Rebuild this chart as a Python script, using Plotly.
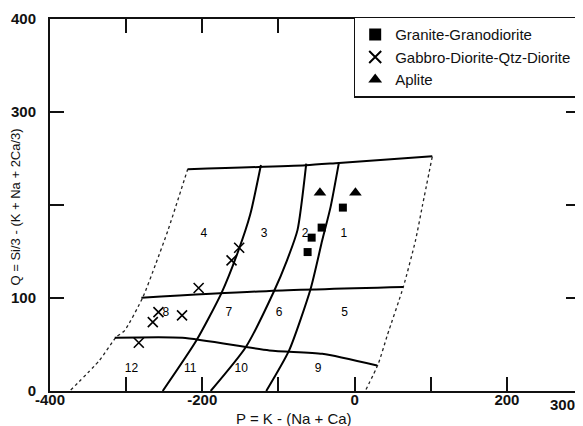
import plotly.graph_objects as go

# ---- data (P, Q values) ----
granite_P = [-15.4, -43.3, -56.4, -61.7]
granite_Q = [197.2, 175.7, 164.9, 149.4]

gabbro_P = [-151.6, -161.6, -204.8, -257.6, -265.0, -226.6, -283.4]
gabbro_Q = [154.0, 140.5, 110.7, 84.8, 74.0, 81.3, 51.9]

aplite_P = [-45.5, 1.1]
aplite_Q = [213.3, 213.3]

# field boundaries
top_P = [-219, -64, -20.7, 102]
top_Q = [238.4, 242.7, 245.2, 252.4]
left_P = [-219, -245, -261, -278, -302, -313, -335, -374]
left_Q = [239, 173, 137, 101, 65, 58, 33, 0]
right_P = [102, 89, 80, 64, 43, 31, 14]
right_Q = [252, 199, 162, 112, 60, 29, 0]
lineA_P = [-123, -137, -153, -175, -208, -252]
lineA_Q = [243, 190, 150, 105, 54, 0]
lineB_P = [-63.5, -75, -89, -106, -143, -189]
lineB_Q = [244.5, 173, 140, 107, 47, 0]
lineC_P = [-20.7, -31.5, -42.5, -57.7, -86, -116]
lineC_Q = [245, 198, 162, 110, 43.6, 0]
mid_P = [-280, -112, 64]
mid_Q = [100.3, 107.5, 111.7]
low_P = [-315, -226, -112, -42.5, 29.5]
low_Q = [57.2, 57.2, 43.6, 40, 27.4]

region_P = [-14, -65, -119, -198, -13, -99, -165, -248, -48, -149, -216, -293]
region_Q = [169, 169, 169, 169, 84, 84, 84, 84, 24, 24, 24, 24]
region_labels = ["1", "2", "3", "4", "5", "6", "7", "8", "9", "10", "11", "12"]

x_tickvals = [-400, -300, -200, -100, 0, 100, 200]
x_ticktext = ["-400", "", "-200", "", "0", "", "200"]
y_tickvals = [0, 100, 200, 300, 400]
y_ticktext = ["0", "100", "", "300", "400"]

FONT = "Liberation Sans, Arial, sans-serif"

fig = go.Figure()

solid = dict(color="black", width=2)
dashed = dict(color="#222", width=1.3, dash="3px,3px")

for P, Q, st in [
    (top_P, top_Q, solid), (left_P, left_Q, dashed), (right_P, right_Q, dashed),
    (lineA_P, lineA_Q, solid), (lineB_P, lineB_Q, solid), (lineC_P, lineC_Q, solid),
    (mid_P, mid_Q, solid), (low_P, low_Q, solid),
]:
    fig.add_trace(go.Scatter(x=P, y=Q, mode="lines", line=dict(shape="spline", smoothing=0.6, **st),
                             showlegend=False, hoverinfo="skip"))

fig.add_trace(go.Scatter(x=region_P, y=region_Q, mode="text", text=region_labels,
                         textfont=dict(family=FONT, size=12, color="black"),
                         showlegend=False, hoverinfo="skip"))

fig.add_trace(go.Scatter(x=granite_P, y=granite_Q, mode="markers", name="Granite-Granodiorite",
                         marker=dict(symbol="square", size=8, color="black")))
fig.add_trace(go.Scatter(x=gabbro_P, y=gabbro_Q, mode="markers", name="Gabbro-Diorite-Qtz-Diorite",
                         marker=dict(symbol="x-thin-open", size=10, color="black",
                                     line=dict(width=1.6, color="black"))))
fig.add_trace(go.Scatter(x=aplite_P, y=aplite_Q, mode="markers", name="Aplite",
                         marker=dict(symbol="triangle-up", size=11, color="black")))

axis_common = dict(showline=True, linecolor="#111", linewidth=2, mirror="ticks",
                   ticks="inside", ticklen=14, tickwidth=1.5, tickcolor="#111",
                   showgrid=False, zeroline=False,
                   tickfont=dict(family=FONT, size=15, color="#111", weight="bold"))

# the page body has an 8px default margin, so the figure is sized to fit the window
fig.update_layout(
    width=575, height=418,
    margin=dict(l=42, r=1, t=11, b=35),
    paper_bgcolor="white", plot_bgcolor="white",
    xaxis=dict(range=[-400, 296], tickvals=x_tickvals, ticktext=x_ticktext,
               ticklabelstandoff=-6, **axis_common),
    yaxis=dict(range=[0, 400], tickvals=y_tickvals, ticktext=y_ticktext,
               ticklabelstandoff=9, **axis_common),
    legend=dict(x=0.573, y=1.006, xanchor="left", yanchor="top",
                bordercolor="#111", borderwidth=1.5, bgcolor="white",
                font=dict(family=FONT, size=15, color="#111"), itemsizing="constant"),
    annotations=[
        dict(text="300", xref="paper", yref="paper", x=0.94, y=0, yshift=-13,
             xanchor="left", yanchor="middle", showarrow=False,
             font=dict(family=FONT, size=15, color="#111", weight="bold")),
        dict(text="P = K - (Na + Ca)", xref="paper", yref="paper", x=0.4605, y=0, yshift=-27,
             yanchor="middle", showarrow=False, font=dict(family=FONT, size=15, color="#111")),
        dict(text="Q = Si/3 - (K + Na + 2Ca/3)", xref="paper", yref="paper", x=0, xshift=-35,
             y=(372 - 188.5) / 372, yanchor="middle", xanchor="center",
             textangle=-90, showarrow=False, font=dict(family=FONT, size=13, color="#111")),
    ],
)

fig.write_html("out.html")
